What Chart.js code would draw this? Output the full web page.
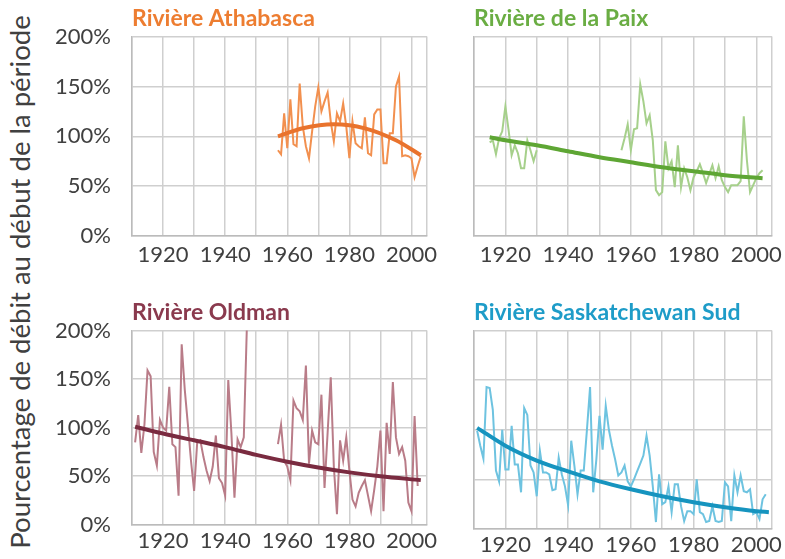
<!DOCTYPE html>
<html>
<head>
<meta charset="utf-8">
<script src="https://cdn.jsdelivr.net/npm/chart.js@4.4.1/dist/chart.umd.min.js"></script>
<style>
  html, body { margin:0; padding:0; background:#ffffff; }
  body { width:785px; height:559px; position:relative; overflow:hidden; }
  canvas { position:absolute; }
  #ytitle { position:absolute; left:19px; top:282px; transform:translate(-50%,-50%) rotate(-90deg);
    white-space:nowrap; font-family:Lato, 'Open Sans', sans-serif; font-size:27.5px; color:#404040; }
</style>
</head>
<body>
<div id="ytitle">Pourcentage de débit au début de la période</div>
<canvas id="c1" width="395" height="285" style="left:50px;top:0px"></canvas>
<canvas id="c2" width="345" height="285" style="left:440px;top:0px"></canvas>
<canvas id="c3" width="395" height="265" style="left:50px;top:294px"></canvas>
<canvas id="c4" width="345" height="265" style="left:440px;top:294px"></canvas>
<script>
// ---- Axis ticks ----
const xGridYears = [1910, 1920, 1930, 1940, 1950, 1960, 1970, 1980, 1990, 2000, 2005];
const xLabelYears = [1920, 1940, 1960, 1980, 2000];
const yTicks = [0, 50, 100, 150, 200];

// ---- Rivière Athabasca (% of flow at start of period) ----
const athabascaStart = 1957;
const athabasca = [86, 82, 123, 88, 137, 92, 90, 153, 110, 90, 78, 105, 130, 149, 125, 135, 144, 115, 95, 123,
  115, 133, 110, 78, 115, 93, 90, 88, 119, 83, 81, 122, 127, 127, 73, 73, 103, 103, 150, 160, 80, 81, 80, 78, 59, 70, 80];
const athabascaTrendYears = [1957, 1965, 1975, 1985, 1995, 2003];
const athabascaTrend = [100, 108, 112, 108, 96, 81];

// ---- Rivière de la Paix ----
const paixStart = 1915;
const paix = [94, 96, 82, 98, 105, 130, 107, 81, 91, 83, 68, 68, 96, 86, 75, 86,
  null, null, null, null, null, null, null, null, null, null, null, null, null,
  null, null, null, null, null, null, null, null, null, null, null, null, null,
  86, 98, 112, 86, 107, 108, 152, 135, 113, 121, 96, 46, 41, 44, 95, 68, 75, 49, 91, 49,
  68, 59, 46, 59, 65, 72, 63, 53, 62, 71, 58, 70, 56, 49, 44, 51, 51, 51, 55, 120, 76, 44, 51, 58, 63, 66];
const paixTrendYears = [1915, 1920, 1930, 1940, 1950, 1960, 1970, 1980, 1990, 2002];
const paixTrend = [99, 96, 91, 85, 79, 74, 69, 65, 61, 58];

// ---- Rivière Oldman ----
const oldmanStart = 1911;
const oldman = [85, 113, 74, 103, 159, 153, 75, 61, 108, 100, 97, 142, 83, 80, 30, 186, 139, 103, 66, 35,
  85, 87, 70, 56, 45, 60, 92, 48, 43, 30, 149, 95, 28, 88, 80, 90, 205,
  null, null, null, null, null, null, null, null, null,
  83, 103, 66, 60, 46, 128, 120, 117, 108, 164, 63, 97, 85, 83, 134, 38, 95, 152, 60, 11,
  87, 66, 90, 56, 26, 19, 33, 40, 46, 30, 14, 36, 60, 97, 14, 105, 73, 147, 90, 73, 80, 66, 23, 14, 112, 40];
const oldmanTrendYears = [1911, 1920, 1930, 1940, 1950, 1960, 1970, 1980, 1990, 2003];
const oldmanTrend = [101, 94, 87, 80, 72, 65, 59, 54, 50, 46];

// ---- Rivière Saskatchewan Sud ----
const saskStart = 1911;
const sask = [99, 84, 71, 143, 142, 120, 59, 48, 100, 60, 60, 104, 65, 65, 37, 122, 115, 64, 57, 33,
  79, 57, 57, 55, 39, 40, 72, 55, 43, 24, 89, 64, 35, 59, 59, 100, 143, 37, 70, 114,
  80, 124, 100, 84, 70, 54, 57, 64, 48, 43, 50, 58, 66, 74, 94, 74, 43, 7, 55, 25,
  27, 43, 17, 45, 45, 23, 8, 18, 18, 15, 50, 17, 15, 7, 8, 23, 8, 7, 8, 47,
  43, 8, 54, 37, 54, 38, 37, 40, 15, 17, 10, 30, 35];
const saskTrendYears = [1911, 1920, 1930, 1940, 1950, 1960, 1970, 1980, 1990, 2000, 2004];
const saskTrend = [102, 84, 69, 58, 48, 40, 33, 27, 22, 18, 17];

const FONT = 'Lato, "Open Sans", sans-serif';
const GRID = '#CFCFCF';
const BORDER = '#BBBBBB';
const TICKCOL = '#404040';

function series(start, vals) { return vals.map((v, i) => ({ x: start + i, y: v })); }
function pairs(xs, ys) { return xs.map((x, i) => ({ x: x, y: ys[i] })); }

function panel(id, cfg) {
  const ctx = document.getElementById(id);
  return new Chart(ctx, {
    type: 'line',
    data: {
      datasets: [
        { data: series(cfg.start, cfg.vals), borderColor: cfg.thin, borderWidth: 2, pointRadius: 0,
          tension: 0, spanGaps: false, clip: 0, order: 2 },
        { data: pairs(cfg.tx, cfg.ty), borderColor: cfg.trend, borderWidth: 4, pointRadius: 0,
          cubicInterpolationMode: 'monotone', clip: 3, order: 1 }
      ]
    },
    options: {
      responsive: false, animation: false, devicePixelRatio: 1,
      layout: { padding: { left: 0, right: cfg.padRight, top: 0, bottom: 0 } },
      plugins: {
        legend: { display: false }, tooltip: { enabled: false },
        title: { display: true, text: cfg.title, align: 'start', fullSize: false, color: cfg.titleColor,
          font: { family: FONT, size: 23, weight: 'bold' }, padding: { top: 5, bottom: 4 } }
      },
      scales: {
        x: {
          type: 'linear', min: 1910, max: 2005,
          afterBuildTicks: s => { s.ticks = xGridYears.map(v => ({ value: v })); },
          ticks: { autoSkip: false, maxRotation: 0, color: TICKCOL, font: { family: FONT, size: 22 },
            padding: cfg.xPad, callback: v => xLabelYears.includes(v) ? String(v) : '' },
          grid: { color: GRID, lineWidth: 1.5, drawTicks: false },
          border: { color: BORDER, width: 1.5 },
          afterFit: s => { s.height = cfg.xH; }
        },
        y: {
          min: 0, max: 200,
          afterBuildTicks: s => { s.ticks = yTicks.map(v => ({ value: v })); },
          ticks: { display: cfg.yLabels, color: TICKCOL, font: { family: FONT, size: 22 }, padding: 21,
            callback: v => v + '%' },
          grid: { color: GRID, lineWidth: 1.5, drawTicks: false },
          border: { color: BORDER, width: 1.5 },
          afterFit: s => { s.width = cfg.yW; }
        }
      }
    }
  });
}

function draw() {
  panel('c1', { title: 'Rivière Athabasca', titleColor: '#ED7D31', thin: '#F2904F', trend: '#E9732D',
    start: athabascaStart, vals: athabasca, tx: athabascaTrendYears, ty: athabascaTrend,
    yLabels: true, yW: 82, padRight: 18, xH: 49, xPad: 6 });
  panel('c2', { title: 'Rivière de la Paix', titleColor: '#6AAD43', thin: '#A6D08B', trend: '#5EA634',
    start: paixStart, vals: paix, tx: paixTrendYears, ty: paixTrend,
    yLabels: false, yW: 34, padRight: 13, xH: 49, xPad: 6 });
  panel('c3', { title: 'Rivière Oldman', titleColor: '#8A3A4E', thin: '#B97C88', trend: '#7A2B40',
    start: oldmanStart, vals: oldman, tx: oldmanTrendYears, ty: oldmanTrend,
    yLabels: true, yW: 82, padRight: 18, xH: 30, xPad: 3 });
  panel('c4', { title: 'Rivière Saskatchewan Sud', titleColor: '#1E9CC8', thin: '#6EC3E0', trend: '#1694BF',
    start: saskStart, vals: sask, tx: saskTrendYears, ty: saskTrend,
    yLabels: false, yW: 34, padRight: 13, xH: 30, xPad: 3 });
}

Promise.all([document.fonts.load('22px Lato'), document.fonts.load('bold 23px Lato'), document.fonts.load('27px Lato')])
  .then(draw, draw);
</script>
</body>
</html>
